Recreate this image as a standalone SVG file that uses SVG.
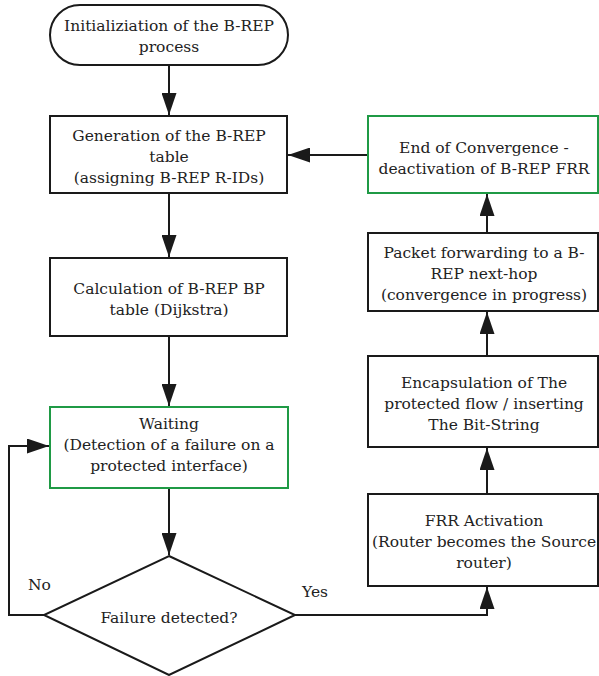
<svg xmlns="http://www.w3.org/2000/svg" width="599" height="676" viewBox="0 0 599 676">
  <style>
    .shape { fill: #ffffff; stroke: #1a1a1a; stroke-width: 2; }
    .green { fill: #ffffff; stroke: #1f9a45; stroke-width: 2; }
    text { font-family: 'DejaVu Serif', 'Liberation Serif', serif; font-size: 15.5px; fill: #222222; }
    .label { text-anchor: middle; }
    .wire { fill: none; stroke: #1a1a1a; stroke-width: 2; }
  </style>
  <defs>
    <marker id="head" viewBox="0 0 22 15" refX="22" refY="7.5" markerWidth="22" markerHeight="15" markerUnits="userSpaceOnUse" orient="auto">
      <path d="M0,0 L22,7.5 L0,15 Z" fill="#1a1a1a"/>
    </marker>
  </defs>

  <g id="connectors">
    <line class="wire" x1="169" y1="65" x2="169" y2="115" marker-end="url(#head)"/>
    <line class="wire" x1="169" y1="193" x2="169" y2="257" marker-end="url(#head)"/>
    <line class="wire" x1="169" y1="336" x2="169" y2="406" marker-end="url(#head)"/>
    <line class="wire" x1="169" y1="488" x2="169" y2="555" marker-end="url(#head)"/>
    <polyline class="wire" points="44,615 9,615 9,446 49,446" marker-end="url(#head)"/>
    <polyline class="wire" points="295,615 487,615 487,587" marker-end="url(#head)"/>
    <line class="wire" x1="487" y1="494" x2="487" y2="448" marker-end="url(#head)"/>
    <line class="wire" x1="487" y1="356" x2="487" y2="312" marker-end="url(#head)"/>
    <line class="wire" x1="487" y1="233" x2="487" y2="194" marker-end="url(#head)"/>
    <line class="wire" x1="368" y1="155" x2="288" y2="155" marker-end="url(#head)"/>
  </g>

  <g id="start">
    <rect class="shape" x="50" y="5" width="238" height="60" rx="30" ry="30"/>
    <text class="label" x="169" y="31">Initializiation of the B-REP</text>
    <text class="label" x="169" y="52">process</text>
  </g>

  <g id="generate-table">
    <rect class="shape" x="50" y="116" width="237" height="77"/>
    <text class="label" x="169" y="141">Generation of the B-REP</text>
    <text class="label" x="169" y="162">table</text>
    <text class="label" x="169" y="183">(assigning B-REP R-IDs)</text>
  </g>

  <g id="calc-bp-table">
    <rect class="shape" x="50" y="258" width="237" height="78"/>
    <text class="label" x="169" y="294">Calculation of B-REP BP</text>
    <text class="label" x="169" y="315">table (Dijkstra)</text>
  </g>

  <g id="waiting">
    <rect class="green" x="50" y="407" width="238" height="81"/>
    <text class="label" x="169" y="429">Waiting</text>
    <text class="label" x="169" y="450">(Detection of a failure on a</text>
    <text class="label" x="169" y="471">protected interface)</text>
  </g>

  <g id="decision">
    <polygon class="shape" points="169,556 295,615 169,675 44,615"/>
    <text class="label" x="169" y="623">Failure detected?</text>
    <text x="28" y="590">No</text>
    <text x="302" y="597">Yes</text>
  </g>

  <g id="frr-activation">
    <rect class="shape" x="368" y="494" width="230" height="92"/>
    <text class="label" x="484" y="526">FRR Activation</text>
    <text class="label" x="484" y="547">(Router becomes the Source</text>
    <text class="label" x="484" y="568">router)</text>
  </g>

  <g id="encapsulation">
    <rect class="shape" x="368" y="356" width="230" height="91"/>
    <text class="label" x="484" y="388">Encapsulation of The</text>
    <text class="label" x="484" y="409">protected flow / inserting</text>
    <text class="label" x="484" y="430">The Bit-String</text>
  </g>

  <g id="packet-forwarding">
    <rect class="shape" x="368" y="233" width="230" height="78"/>
    <text class="label" x="484" y="258">Packet forwarding to a B-</text>
    <text class="label" x="484" y="279">REP next-hop</text>
    <text class="label" x="484" y="300">(convergence in progress)</text>
  </g>

  <g id="end-convergence">
    <rect class="green" x="368" y="116" width="230" height="77"/>
    <text class="label" x="484" y="153">End of Convergence -</text>
    <text class="label" x="484" y="174">deactivation of B-REP FRR</text>
  </g>
</svg>
